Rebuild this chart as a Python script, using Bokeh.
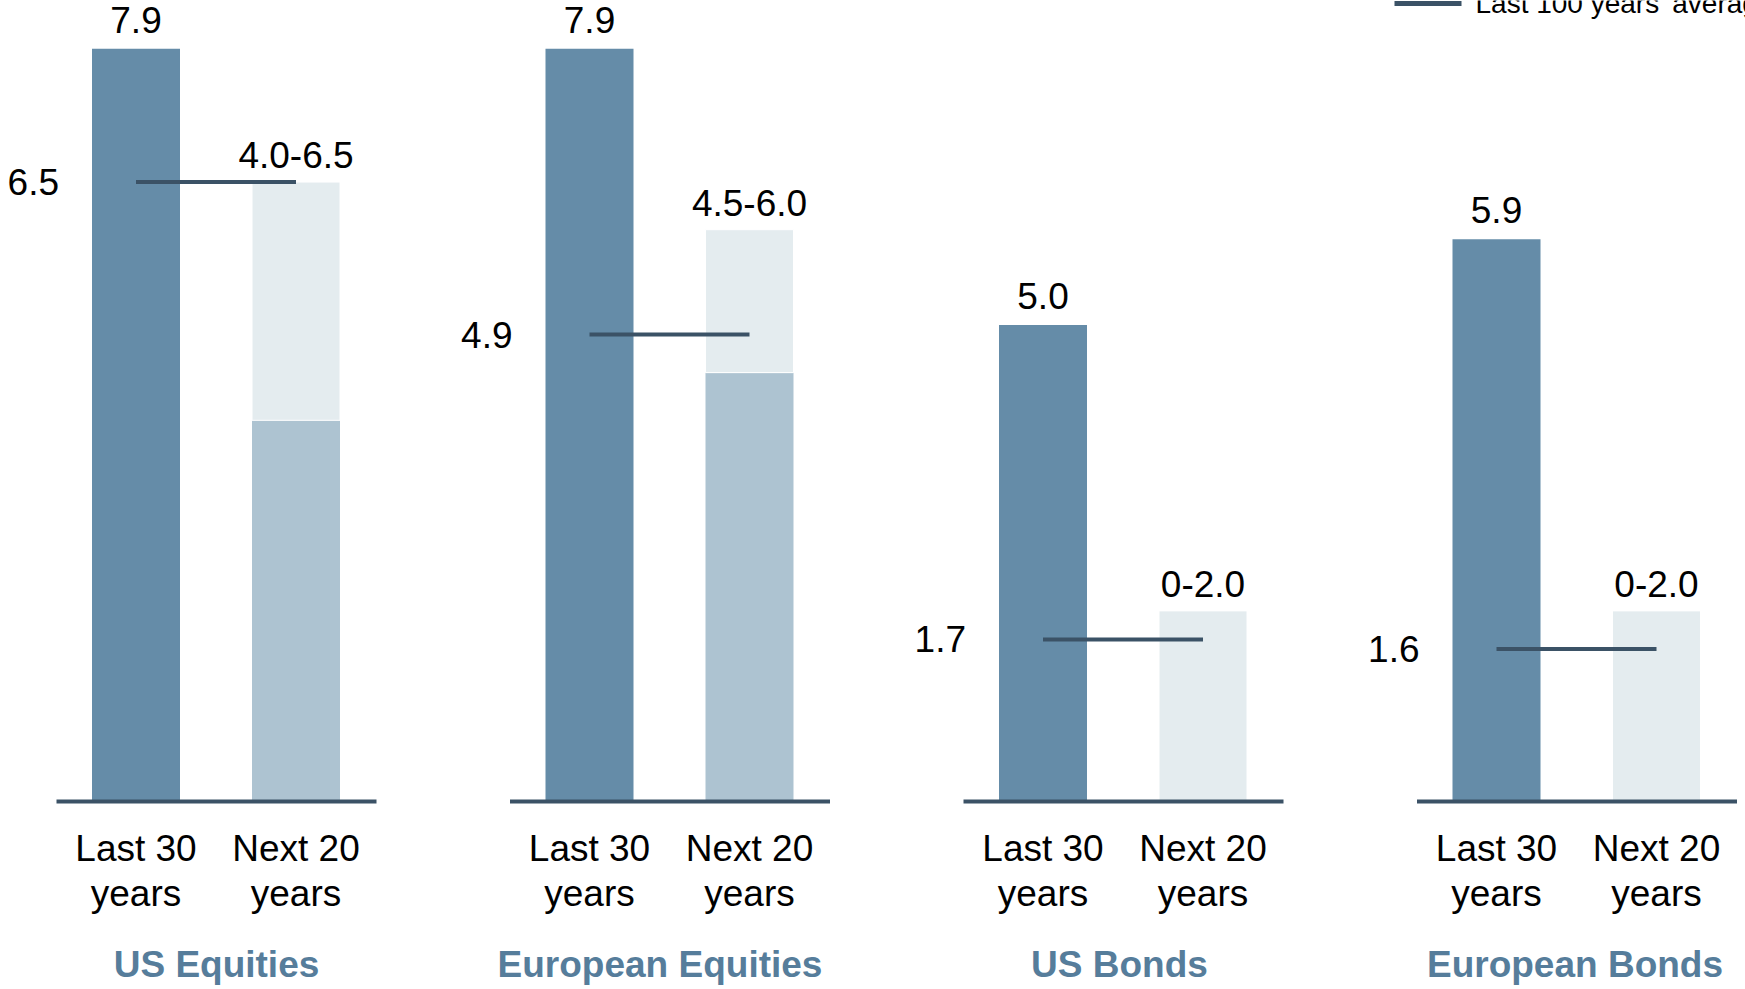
from bokeh.plotting import figure
from bokeh.models import Range1d, ColumnDataSource
from bokeh.core.properties import value
from bokeh.embed import file_html
from bokeh.resources import INLINE

# ---- data ----
groups = ["US Equities", "European Equities", "US Bonds", "European Bonds"]
last30 = [7.9, 7.9, 5.0, 5.9]
next20_low = [4.0, 4.5, 0.0, 0.0]
next20_high = [6.5, 6.0, 2.0, 2.0]
avg100 = [6.5, 4.9, 1.7, 1.6]
last30_labels = ["7.9", "7.9", "5.0", "5.9"]
next20_labels = ["4.0-6.5", "4.5-6.0", "0-2.0", "0-2.0"]
avg_labels = ["6.5", "4.9", "1.7", "1.6"]
bar_cats = ["Last 30", "Next 20"]
legend_label = "Last 100 years' average"

# ---- layout constants (pixels) ----
W, H = 1745, 989
BASE_PX = 801
PX_PER_UNIT = 95.3
GROUP_START = 56
GROUP_STEP = 453.5
GROUP_W = 320
BAR1_OFF, BAR2_OFF = 79.5, 239.5
BAR_W = 88
TITLE_SHIFT = [0, -10, -4, -2]

C_LAST = "#658ca8"
C_NEXT_LO = "#adc3d1"
C_NEXT_HI = "#e4ecef"
C_DARK = "#3b5266"
C_TITLE = "#567d9b"
FONT = "Liberation Sans"

p = figure(width=W, height=H, output_backend="svg", toolbar_location=None,
           x_range=Range1d(0, W),
           y_range=Range1d(-(H - BASE_PX) / PX_PER_UNIT, BASE_PX / PX_PER_UNIT),
           min_border=0, outline_line_color=None)
p.axis.visible = False
p.grid.visible = False
p.background_fill_color = "white"
p.border_fill_color = "white"

n = len(groups)
g0 = [GROUP_START + i * GROUP_STEP for i in range(n)]
x1 = [g + BAR1_OFF for g in g0]
x2 = [g + BAR2_OFF for g in g0]
gc = [g + GROUP_W / 2 + s for g, s in zip(g0, TITLE_SHIFT)]

src = ColumnDataSource(dict(
    x1=x1, x2=x2, gc=gc, g0=g0, g1=[g + GROUP_W for g in g0],
    last30=last30, lo=next20_low, hi=next20_high, avg=avg100,
    l30lab=last30_labels, n20lab=next20_labels, avglab=avg_labels,
    avgx=[x - BAR_W / 2 - 33 for x in x1], zero=[0] * n, groups=groups,
))

p.vbar(x="x1", width=BAR_W, bottom=0, top="last30", source=src,
       fill_color=C_LAST, line_color=None)
p.vbar(x="x2", width=BAR_W, bottom=0, top="lo", source=src,
       fill_color=C_NEXT_LO, line_color=None)
p.vbar(x="x2", width=BAR_W, bottom="lo", top="hi", source=src,
       fill_color=C_NEXT_HI, line_color="white", line_width=1)

# baseline per group
p.segment(x0="g0", x1="g1", y0="zero", y1="zero", source=src,
          line_color=C_DARK, line_width=4)
# 100-yr average
p.segment(x0="x1", x1="x2", y0="avg", y1="avg", source=src,
          line_color=C_DARK, line_width=4)

fs = "37px"
p.text(x="x1", y="last30", text="l30lab", source=src, text_align="center",
       text_baseline="middle", y_offset=-29, text_font=value(FONT),
       text_font_size=fs, text_color="black")
p.text(x="x2", y="hi", text="n20lab", source=src, text_align="center",
       text_baseline="middle", y_offset=-27, text_font=value(FONT),
       text_font_size=fs, text_color="black")
p.text(x="avgx", y="avg", text="avglab", source=src, text_align="right",
       text_baseline="middle", text_font=value(FONT),
       text_font_size=fs, text_color="black")

# category labels
for xcol, cat in (("x1", bar_cats[0]), ("x2", bar_cats[1])):
    p.text(x=xcol, y="zero", text=value(cat), source=src, text_align="center",
           text_baseline="middle", y_offset=47, text_font=value(FONT),
           text_font_size=fs, text_color="black")
    p.text(x=xcol, y="zero", text=value("years"), source=src, text_align="center",
           text_baseline="middle", y_offset=92, text_font=value(FONT),
           text_font_size=fs, text_color="black")

# group titles
p.text(x="gc", y="zero", text="groups", source=src, text_align="center",
       text_baseline="middle", y_offset=163, text_font=value(FONT),
       text_font_size=fs, text_font_style="bold", text_color=C_TITLE)

# legend (partially clipped at top, as in reference)
y_top = BASE_PX / PX_PER_UNIT
p.segment(x0=[1394], x1=[1461], y0=[y_top - 3 / PX_PER_UNIT], y1=[y_top - 3 / PX_PER_UNIT],
          line_color=C_DARK, line_width=5)
p.text(x=[1475], y=[y_top], text=[legend_label], text_align="left",
       text_baseline="alphabetic", y_offset=3, text_font=value(FONT),
       text_font_size="28px", text_color="black")

open("out.html", "w").write(file_html(p, INLINE))
